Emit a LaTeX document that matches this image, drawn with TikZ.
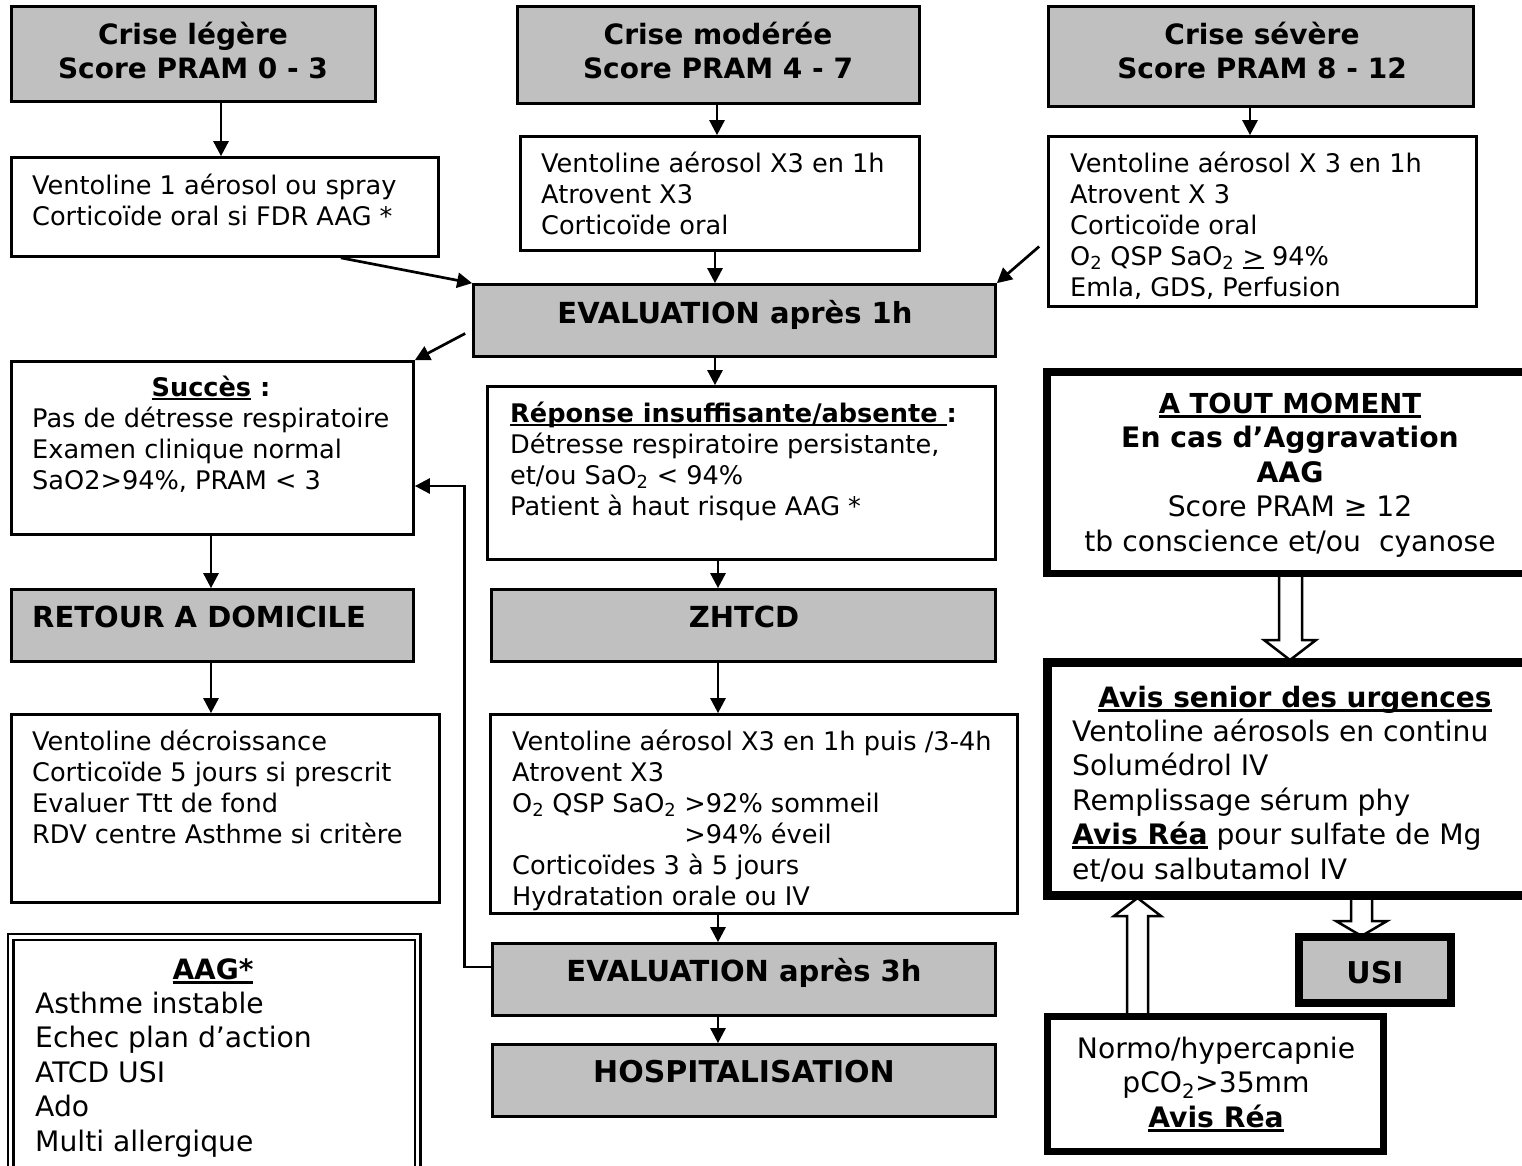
\documentclass[tikz,border=0pt]{standalone}
\usepackage{fontspec}
\setmainfont{DejaVu Sans}
\usetikzlibrary{arrows.meta,fit,calc}
\definecolor{boxgray}{HTML}{C0C0C0}
\pgfdeclarelayer{back}
\pgfdeclarelayer{bg}
\pgfsetlayers{back,bg,main}
\newcommand\fn{\fontsize{25.6}{31}\selectfont}
\newcommand\fl{\fontsize{28.2}{34.5}\selectfont}
\newcommand\fbb{\fontsize{28}{34}\selectfont\bfseries}
\newcommand\fbig{\fontsize{29}{34}\selectfont\bfseries}
\newcommand\ulw[1]{\leavevmode\setbox0\hbox{#1}\rlap{\rule[-0.17em]{\wd0}{0.1em}}\box0\relax}
\newcommand\ulthin[1]{\leavevmode\setbox0\hbox{#1}\rlap{\rule[-0.15em]{\wd0}{0.06em}}\box0\relax}
\newcommand\lns[1]{\begin{tabular}[t]{@{}l@{}}#1\end{tabular}}
\newcommand\clns[1]{\begin{tabular}[t]{@{}c@{}}#1\end{tabular}}
\newcommand\sbt[1]{\textsubscript{#1}}
\begin{document}
\begin{tikzpicture}[x=1pt,y=-1pt,
  gbox/.style={draw=black, line width=2.7pt, fill=boxgray, inner sep=0pt},
  wbox/.style={draw=black, line width=2.7pt, fill=white, inner sep=0pt},
  heavybox/.style={draw=black, fill=white, inner sep=0pt},
  ltxt/.style={inner sep=0pt, anchor=base west, font=\fn},
  ctxt/.style={inner sep=0pt, anchor=base},
  arr/.style={line width=2.7pt, -{Triangle[length=15pt,width=15pt]}},
  barr/.style={draw=black, line width=2.5pt, fill=white, line join=miter}]
\useasboundingbox (0,0) rectangle (1522,1165);
\begin{pgfonlayer}{back}
\fill[white] (0,0) rectangle (1522,1165);
\end{pgfonlayer}
\clip (0,0) rectangle (1522,1165);

% boxes
\node[gbox, fit={(11.5,6.5) (375.5,101.5)}] (cl) {};
\node[gbox, fit={(517.5,6.5) (919.5,103.5)}] (cm) {};
\node[gbox, fit={(1048.5,6.5) (1473.5,106.5)}] (cs) {};
\node[wbox, fit={(11.5,157.5) (438.5,256.5)}] (v1) {};
\node[wbox, fit={(520.5,136.5) (919.5,250.5)}] (v2) {};
\node[wbox, fit={(1048.5,136.5) (1476.5,306.5)}] (v3) {};
\node[gbox, fit={(473.5,284.5) (995.5,356.5)}] (ev1) {};
\node[wbox, fit={(11.5,361.5) (413.5,534.5)}] (succ) {};
\node[wbox, fit={(487.5,386.5) (995.5,559.5)}] (rep) {};
\node[heavybox, line width=7.5pt, fit={(1046.75,371.75) (1545,573.25)}] (atm) {};
\node[gbox, fit={(11.5,589.5) (413.5,661.5)}] (ret) {};
\node[gbox, fit={(491.5,589.5) (995.5,661.5)}] (zh) {};
\node[heavybox, line width=9pt, fit={(1047.5,662.5) (1545,895.5)}] (avis) {};
\node[wbox, fit={(11.5,714.5) (439.5,902.5)}] (vd) {};
\node[wbox, fit={(490.5,714.5) (1017.5,913.5)}] (vz) {};
\node[draw=black, fill=white, inner sep=0pt, line width=2.2pt, double=white, double distance=3.6pt, fit={(10.5,937) (417.5,1200)}] (aag) {};
\node[gbox, fit={(492.5,943.5) (995.5,1015.5)}] (ev3) {};
\node[gbox, fit={(492.5,1044.5) (995.5,1116.5)}] (hosp) {};
\node[heavybox, line width=8pt, fill=boxgray, fit={(1299,937) (1451,1003)}] (usi) {};
\node[heavybox, line width=7pt, fit={(1047.5,1016.5) (1383.5,1151.5)}] (normo) {};

% texts
\node[ctxt, font=\fbb] (tcl) at (193,44) {\clns{Crise légère\\Score PRAM 0 - 3}};
\node[ctxt, font=\fbb] (tcm) at (718,44) {\clns{Crise modérée\\Score PRAM 4 - 7}};
\node[ctxt, font=\fbb] (tcs) at (1262,44) {\clns{Crise sévère\\Score PRAM 8 - 12}};
\node[ltxt] (tv1) at (32,194) {\lns{Ventoline 1 aérosol ou spray\\Corticoïde oral si FDR AAG *}};
\node[ltxt] (tv2) at (541,172) {\lns{Ventoline aérosol X3 en 1h\\Atrovent X3\\Corticoïde oral}};
\node[ltxt] (tv3) at (1070,172) {\lns{Ventoline aérosol X 3 en 1h\\Atrovent X 3\\Corticoïde oral\\O\sbt{2} QSP SaO\sbt{2} \ulthin{>} 94\%\\Emla, GDS, Perfusion}};
\node[ctxt, font=\fbig] (tev1) at (735,323) {EVALUATION après 1h};
\node[ctxt, font=\fontsize{25.6}{31}\selectfont\bfseries] (tsuccT) at (211,396) {\ulw{Succès} :};
\node[ltxt] (tsucc) at (32,427) {\lns{Pas de détresse respiratoire\\Examen clinique normal\\SaO2>94\%, PRAM < 3}};
\node[ltxt] (trep) at (510,422) {\lns{\textbf{\ulw{Réponse insuffisante/absente\ }:}\\Détresse respiratoire persistante,\\et/ou SaO\sbt{2} < 94\%\\Patient à haut risque AAG *}};
\node[ctxt, font=\fl] (tatm) at (1290,413) {\clns{{\fontsize{27.5}{34}\selectfont\bfseries\ulw{A TOUT MOMENT}}\\\textbf{En cas d’Aggravation}\\\textbf{AAG}\\Score PRAM ≥ 12\\tb conscience et/ou\ \ cyanose}};
\node[ltxt, font=\fbig] (tret) at (32,627) {RETOUR A DOMICILE};
\node[ctxt, font=\fbig] (tzh) at (744,627) {ZHTCD};
\node[ctxt, font=\fbb] (tavisT) at (1295,707) {\ulw{Avis senior des urgences}};
\node[ltxt, font=\fl] (tavis) at (1072,741) {\lns{Ventoline aérosols en continu\\Solumédrol IV\\Remplissage sérum phy\\\textbf{\ulw{Avis Réa}} pour sulfate de Mg\\et/ou salbutamol IV}};
\node[ltxt] (tvd) at (32,750) {\lns{Ventoline décroissance\\Corticoïde 5 jours si prescrit\\Evaluer Ttt de fond\\RDV centre Asthme si critère}};
\node[ltxt] (tvz) at (512,750) {\lns{Ventoline aérosol X3 en 1h puis /3-4h\\Atrovent X3\\O\sbt{2} QSP SaO\sbt{2} >92\% sommeil\\\hphantom{O\sbt{2} QSP SaO\sbt{2}\ }>94\% éveil\\Corticoïdes 3 à 5 jours\\Hydratation orale ou IV}};
\node[ctxt, font=\fbb] (taagT) at (213,979) {\ulw{AAG*}};
\node[ltxt, font=\fl] (taag) at (35,1013) {\lns{Asthme instable\\Echec plan d’action\\ATCD USI\\Ado\\Multi allergique}};
\node[ctxt, font=\fbig] (tev3) at (744,981) {EVALUATION après 3h};
\node[ctxt, font=\fontsize{30}{34}\selectfont\bfseries] (thosp) at (744,1082) {HOSPITALISATION};
\node[ctxt, font=\fontsize{30}{34}\selectfont\bfseries] (tusi) at (1375,983) {USI};
\node[ctxt, font=\fl] (tnormo) at (1216,1058) {\clns{Normo/hypercapnie\\pCO\sbt{2}>35mm\\\textbf{\ulw{Avis Réa}}}};

% connectors
\draw[arr] (221,0 |- cl.south) -- (221,0 |- v1.north);
\draw[arr] (717,0 |- cm.south) -- (717,0 |- v2.north);
\draw[arr] (1250,0 |- cs.south) -- (1250,0 |- v3.north);
\draw[arr] ([xshift=-99pt]v1.south east) -- (ev1.north west);
\draw[arr] (715,0 |- v2.south) -- (715,0 |- ev1.north);
\draw[arr] ([xshift=-8pt,yshift=-25pt]v3.west) -- (ev1.north east);
\draw[arr] ([xshift=-7pt,yshift=-13pt]ev1.west) -- (succ.north east);
\draw[arr] (715,0 |- ev1.south) -- (715,0 |- rep.north);
\draw[arr] (718,0 |- rep.south) -- (718,0 |- zh.north);
\draw[arr] (211,0 |- succ.south) -- (211,0 |- ret.north);
\draw[arr] (211,0 |- ret.south) -- (211,0 |- vd.north);
\draw[arr] (718,0 |- zh.south) -- (718,0 |- vz.north);
\draw[arr] (718,0 |- vz.south) -- (718,0 |- ev3.north);
\draw[arr] (718,0 |- ev3.south) -- (718,0 |- hosp.north);
\draw[arr] ([yshift=12.5pt]ev3.west) -- ++(-27,0) |- ([yshift=-38pt]succ.east);

% block arrows (behind boxes)
\begin{pgfonlayer}{bg}
\draw[barr] (1279,0 |- atm.south) -- (1279,640) -- (1264,640) -- (1290,660) -- (1316,640) -- (1302,640) -- (1302,0 |- atm.south);
\draw[barr] (1351,0 |- avis.south) -- (1351,921) -- (1336,921) -- (1361.5,936) -- (1387,921) -- (1372,921) -- (1372,0 |- avis.south);
\draw[barr] (1127,0 |- normo.north) -- (1127,916) -- (1114,916) -- (1137.5,898) -- (1161,916) -- (1148,916) -- (1148,0 |- normo.north);
\end{pgfonlayer}
\end{tikzpicture}
\end{document}
